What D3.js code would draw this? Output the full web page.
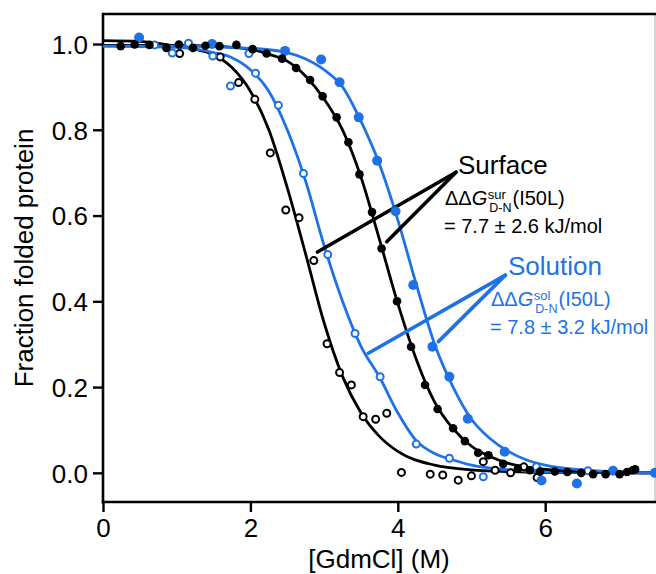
<!DOCTYPE html>
<html>
<head>
<meta charset="utf-8">
<script src="https://cdn.jsdelivr.net/npm/d3@7"></script>
<style>
  html, body { margin: 0; padding: 0; background: #fff; }
  svg { display: block; font-family: "Liberation Sans", Arial, Helvetica, sans-serif; }
</style>
</head>
<body>
<svg id="chart" width="656" height="574"></svg>
<script>
// ---- Data ----
const xTicks = [0, 2, 4, 6];
const yTicks = [0.0, 0.2, 0.4, 0.6, 0.8, 1.0];

// Surface, wild type (black filled)
const surfaceWT = [[0.24,0.995],[0.43,0.999],[0.63,0.998],[0.86,0.991],[1.03,0.999],[1.22,0.991],[1.39,0.996],[1.58,0.995],[1.81,0.998],[2.03,0.988],[2.22,0.978],[2.43,0.966],[2.62,0.944],[2.81,0.916],[2.98,0.878],[3.17,0.829],[3.33,0.771],[3.48,0.696],[3.65,0.608],[3.78,0.523],[3.99,0.400],[4.18,0.294],[4.37,0.205],[4.54,0.149],[4.75,0.104],[4.91,0.074],[5.09,0.047],[5.23,0.041],[5.43,0.021],[5.63,0.010],[5.79,0.006],[5.93,0.003],[6.13,0.003],[6.30,0.002],[6.49,0.000],[6.65,-0.003],[6.82,-0.003],[7.01,-0.003],[7.11,0.002],[7.19,0.006],[7.22,0.008]];
// Surface, I50L (black open)
const surfaceI50L = [[1.04,0.978],[1.59,0.970],[1.84,0.910],[2.06,0.871],[2.27,0.746],[2.48,0.613],[2.66,0.595],[2.86,0.495],[3.04,0.301],[3.21,0.234],[3.37,0.205],[3.53,0.131],[3.70,0.125],[3.85,0.139],[4.05,0.001],[4.44,-0.003],[4.61,-0.005],[4.82,-0.017],[5.00,-0.007],[5.16,0.026],[5.32,0.006],[5.53,0.000],[5.71,0.014],[5.89,-0.011]];
// Solution, wild type (blue filled)
const solutionWT = [[0.49,1.015],[1.48,1.000],[2.47,0.984],[2.96,0.964],[3.21,0.911],[3.47,0.829],[3.72,0.728],[3.97,0.610],[4.21,0.438],[4.47,0.294],[4.70,0.224],[4.95,0.126],[5.45,0.049],[5.95,-0.018],[6.43,-0.025],[6.92,0.005],[7.49,0.000]];
// Solution, I50L (blue open)
const solutionI50L = [[0.70,0.998],[0.94,0.979],[1.16,1.002],[1.49,0.972],[1.73,0.902],[1.98,0.978],[2.07,0.932],[2.38,0.857],[2.72,0.698],[3.05,0.509],[3.42,0.325],[3.76,0.224],[4.25,0.067],[4.70,0.034],[5.16,-0.009],[5.88,0.014],[6.58,0.005]];

// Fitted curves
const fitSurfaceWT = [[0,0.997],[1.0,0.997],[1.5,0.995],[2.0,0.988],[2.25,0.976],[2.5,0.960],[2.75,0.925],[3.0,0.872],[3.25,0.800],[3.5,0.690],[3.75,0.545],[4.0,0.395],[4.25,0.265],[4.5,0.165],[4.75,0.103],[5.0,0.062],[5.25,0.038],[5.5,0.022],[6.0,0.008],[6.5,0.003],[7.49,0.000]];
const fitSurfaceI50L = [[0,1.008],[0.5,1.006],[1.0,0.995],[1.25,0.988],[1.5,0.975],[1.75,0.945],[2.0,0.890],[2.25,0.800],[2.5,0.665],[2.75,0.510],[3.0,0.350],[3.25,0.225],[3.5,0.140],[3.75,0.085],[4.0,0.050],[4.5,0.018],[5.0,0.007],[5.5,0.003],[6.0,0.001],[7.49,0.000]];
const fitSolutionWT = [[0,0.995],[1.0,0.995],[2.0,0.990],[2.5,0.980],[2.75,0.965],[3.0,0.940],[3.25,0.900],[3.5,0.820],[3.75,0.720],[4.0,0.590],[4.25,0.440],[4.5,0.300],[4.75,0.200],[5.0,0.125],[5.25,0.080],[5.5,0.050],[5.75,0.030],[6.0,0.018],[6.5,0.007],[7.0,0.002],[7.49,0.000]];
const fitSolutionI50L = [[0,0.995],[1.0,0.992],[1.5,0.980],[1.75,0.968],[2.0,0.940],[2.25,0.890],[2.5,0.800],[2.75,0.680],[3.0,0.530],[3.25,0.400],[3.5,0.295],[3.75,0.224],[4.0,0.140],[4.25,0.075],[4.5,0.045],[4.75,0.030],[5.0,0.018],[5.5,0.007],[6.0,0.003],[7.49,0.000]];

// Annotation pointer lines (data coordinates)
const surfacePointers = [[[2.91,0.515],[4.79,0.701]],[[3.85,0.539],[4.79,0.701]]];
const solutionPointers = [[[3.60,0.279],[5.46,0.461]],[[4.55,0.306],[5.46,0.461]]];

(function () {
const BLACK = "#000";
const BLUE = "#1f72e6";
const svg = d3.select("#chart");
const pL = 103, pR = 655, pT = 14, pB = 502;

const x = d3.scaleLinear().domain([0, 7.49]).range([pL, pR]);
const y = d3.scaleLinear().domain([-0.068, 1.07]).range([pB, pT]);

// frame
svg.append("line").attr("x1", pR).attr("x2", pR).attr("y1", pT).attr("y2", pB)
  .attr("stroke", "#aaa").attr("stroke-width", 1);
svg.append("line").attr("x1", pL).attr("x2", pR + 1).attr("y1", pT).attr("y2", pT)
  .attr("stroke", BLACK).attr("stroke-width", 2.6);

// axes
const xAxis = svg.append("g").attr("transform", `translate(0,${pB})`)
  .call(d3.axisBottom(x).tickValues(xTicks).tickFormat(d3.format("d")).tickSize(10).tickSizeOuter(0));
const yAxis = svg.append("g").attr("transform", `translate(${pL},0)`)
  .call(d3.axisLeft(y).tickValues(yTicks).tickFormat(d3.format(".1f")).tickSize(10).tickSizeOuter(0));
[xAxis, yAxis].forEach(g => {
  g.select(".domain").remove();
  g.selectAll(".tick line").attr("stroke", BLACK).attr("stroke-width", 2.4);
  g.selectAll(".tick text").attr("fill", BLACK).attr("font-size", 26)
    .attr("font-family", '"Liberation Sans", Arial, sans-serif');
});
xAxis.selectAll(".tick text").attr("dy", "0.71em").attr("y", 17);
yAxis.selectAll(".tick text").attr("x", -15).attr("dy", "0.36em");

svg.append("line").attr("x1", pL).attr("x2", pL).attr("y1", pT - 1.3).attr("y2", pB + 1.3)
  .attr("stroke", BLACK).attr("stroke-width", 2.6);
svg.append("line").attr("x1", pL - 1.3).attr("x2", pR + 1).attr("y1", pB).attr("y2", pB)
  .attr("stroke", BLACK).attr("stroke-width", 2.6);

// axis titles
svg.append("text").attr("x", (pL + pR) / 2).attr("y", 568).attr("text-anchor", "middle")
  .attr("font-size", 26).attr("fill", BLACK).text("[GdmCl] (M)");
svg.append("text").attr("transform", `translate(33,${(pT + pB) / 2}) rotate(-90)`)
  .attr("text-anchor", "middle").attr("font-size", 26).attr("fill", BLACK).text("Fraction folded protein");

// fitted curves
const line = d3.line().x(d => x(d[0])).y(d => y(d[1])).curve(d3.curveMonotoneX);
const curves = [
  [fitSurfaceI50L, BLACK], [fitSolutionI50L, BLUE], [fitSurfaceWT, BLACK], [fitSolutionWT, BLUE]
];
curves.forEach(([data, color]) => {
  svg.append("path").datum(data).attr("d", line).attr("fill", "none")
    .attr("stroke", color).attr("stroke-width", 2.8).attr("stroke-linejoin", "round");
});

// annotation pointers
const pointer = d3.line().x(d => x(d[0])).y(d => y(d[1]));
surfacePointers.forEach(p => svg.append("path").attr("d", pointer(p)).attr("stroke", BLACK)
  .attr("stroke-width", 3.6).attr("stroke-linecap", "round").attr("fill", "none"));
solutionPointers.forEach(p => svg.append("path").attr("d", pointer(p)).attr("stroke", BLUE)
  .attr("stroke-width", 3.6).attr("stroke-linecap", "round").attr("fill", "none"));

// points
function filled(data, color, r) {
  svg.append("g").selectAll("circle").data(data).join("circle")
    .attr("cx", d => x(d[0])).attr("cy", d => y(d[1])).attr("r", r).attr("fill", color);
}
function open(data, color) {
  svg.append("g").selectAll("circle").data(data).join("circle")
    .attr("cx", d => x(d[0])).attr("cy", d => y(d[1])).attr("r", 3.5)
    .attr("fill", "#fff").attr("stroke", color).attr("stroke-width", 2);
}
open(surfaceI50L, BLACK);
open(solutionI50L, BLUE);
filled(solutionWT, BLUE, 5);
filled(surfaceWT, BLACK, 4.3);

// annotation text (stacked super/subscripts)
function label(pos, yTitle, title, sup, resultText, color) {
  svg.append("text").attr("x", pos.title).attr("y", yTitle).attr("font-size", 26)
    .attr("fill", color).text(title);
  const yl = yTitle + 31;
  const t = svg.append("text").attr("x", pos.eq).attr("y", yl).attr("font-size", 20).attr("fill", color);
  t.append("tspan").text("ΔΔ");
  t.append("tspan").attr("font-style", "italic").text("G");
  const w = t.node().getComputedTextLength();
  const tSup = svg.append("text").attr("x", pos.eq + w + 0.5).attr("y", yl - 6.5)
    .attr("font-size", 13).attr("fill", color).text(sup);
  const tSub = svg.append("text").attr("x", pos.eq + w + 2).attr("y", yl + 7)
    .attr("font-size", 12.5).attr("fill", color).text("D-N");
  const wMax = Math.max(tSup.node().getComputedTextLength() + 0.5, tSub.node().getComputedTextLength() + 2);
  svg.append("text").attr("x", pos.eq + w + wMax + 1).attr("y", yl).attr("font-size", 20)
    .attr("fill", color).text("(I50L)");
  svg.append("text").attr("x", pos.eq - 1).attr("y", yl + 27.5).attr("font-size", 20)
    .attr("fill", color).text(resultText);
}
label({title: 458, eq: 445}, 174, "Surface", "sur", "= 7.7 ± 2.6 kJ/mol", BLACK);
label({title: 508, eq: 491}, 275, "Solution", "sol", "= 7.8 ± 3.2 kJ/mol", BLUE);
})();
</script>
</body>
</html>
